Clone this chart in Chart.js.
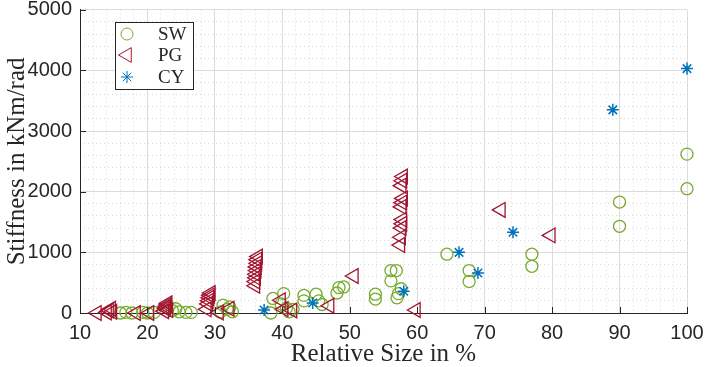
<!DOCTYPE html>
<html lang="en">
<head>
<meta charset="UTF-8">
<title>Stiffness vs relative size</title>
<script src="https://cdn.jsdelivr.net/npm/chart.js"></script>
<style>
  html, body { margin: 0; padding: 0; background: #fff; }
  #chart { display: block; }
</style>
</head>
<body>
<canvas id="chart" width="706" height="367"></canvas>
<script>
// series: relative size (%) and stiffness (kNm/rad)
const swX = [16.0, 16.8, 17.7, 19.3, 20.0, 21.0, 23.7, 24.2, 24.7, 25.7, 26.5,
  30.8, 31.2, 31.8, 32.2, 32.6, 38.3, 38.6, 39.8, 40.2, 40.6, 41.0, 41.6,
  43.2, 43.2, 45.0, 45.4, 45.9, 48.1, 48.4, 49.1, 53.8, 53.8,
  56.1, 56.9, 56.1, 57.6, 57.2, 57.0, 64.4, 67.7, 67.7, 77.0, 77.0, 90.0, 90.0, 100.0, 100.0];
const swY = [0, 10, 0, 10, 0, 10, 40, 70, 20, 10, 10,
  15, 130, 60, 100, 20, 0, 240, 150, 320, 80, 20, 60,
  290, 200, 310, 200, 140, 330, 420, 430, 310, 230,
  700, 700, 530, 400, 320, 250, 970, 700, 520, 970, 770, 1830, 1430, 2620, 2050];

const pgX = [12.5, 14.0, 14.3, 14.6, 14.8, 18.3, 20.3,
  22.5, 22.7, 22.8, 22.9, 23.0, 23.1, 28.8, 29.0, 29.1, 29.2, 29.3, 29.4, 30.6, 32.2,
  36.0, 36.0, 36.1, 36.1, 36.2, 36.2, 36.3, 36.3, 36.4, 39.8, 40.2, 41.5, 47.0, 50.6,
  57.5, 57.6, 57.7, 57.8, 57.8, 57.7, 57.8, 57.9, 57.7, 57.8, 57.9, 59.8, 72.4, 79.8];
const pgY = [0, 10, 40, 70, 20, 0, 0,
  30, 70, 100, 130, 160, 50, 60, 150, 200, 250, 290, 330, 10, 70,
  450, 520, 580, 640, 700, 760, 820, 880, 930, 210, 60, 40, 120, 610,
  1120, 1250, 1400, 1470, 1540, 1750, 1820, 1890, 2100, 2180, 2250, 50, 1700, 1280];

const cyX = [37.3, 44.5, 58.0, 66.2, 69.0, 74.2, 89.0, 100.0];
const cyY = [50, 165, 360, 1000, 660, 1330, 3350, 4030];

const seriesNames = ['SW', 'PG', 'CY'];
const xTicks = [10, 20, 30, 40, 50, 60, 70, 80, 90, 100];
const yTicks = [0, 1000, 2000, 3000, 4000, 5000];

const green = '#77AC30', red = '#A2142F', blue = '#0072BD';
const axisCol = '#262626';

function pts(xs, ys) {
  return xs.map((x, i) => ({ x: x, y: ys[i] }));
}

const markers = [
  { pointStyle: 'circle', radius: 6, rotation: 0, color: green, width: 1.3 },
  { pointStyle: 'triangle', radius: 8.5, rotation: -90, color: red, width: 1.3 },
  { pointStyle: 'star', radius: 6, rotation: 0, color: blue, width: 1.5 }
];

function ds(i, xs, ys, order) {
  const m = markers[i];
  return {
    label: seriesNames[i],
    data: pts(xs, ys),
    pointStyle: m.pointStyle,
    pointRadius: m.radius,
    pointRotation: m.rotation,
    pointBorderColor: m.color,
    pointBackgroundColor: 'rgba(0,0,0,0)',
    pointBorderWidth: m.width,
    borderColor: m.color,
    backgroundColor: 'rgba(0,0,0,0)',
    clip: false,
    order: order
  };
}

// MATLAB style ticks pointing into the plot
const inwardTicks = {
  id: 'inwardTicks',
  afterDatasetsDraw(chart) {
    const { ctx, chartArea, scales } = chart;
    ctx.save();
    ctx.strokeStyle = axisCol;
    ctx.lineWidth = 1;
    ctx.beginPath();
    xTicks.forEach(v => {
      const px = Math.round(scales.x.getPixelForValue(v)) + 0.5;
      ctx.moveTo(px, chartArea.bottom);
      ctx.lineTo(px, chartArea.bottom - 6);
    });
    yTicks.forEach(v => {
      const py = Math.round(scales.y.getPixelForValue(v)) + 0.5;
      ctx.moveTo(chartArea.left, py);
      ctx.lineTo(chartArea.left + 6, py);
    });
    ctx.stroke();
    ctx.restore();
  }
};

// legend box inside the axes, top left
const boxLegend = {
  id: 'boxLegend',
  afterDraw(chart) {
    const ctx = chart.ctx;
    const bx = 115.5, by = 22.5, bw = 78, bh = 67;
    ctx.save();
    ctx.fillStyle = '#ffffff';
    ctx.fillRect(bx, by, bw, bh);
    ctx.strokeStyle = axisCol;
    ctx.lineWidth = 1;
    ctx.strokeRect(bx, by, bw, bh);
    const rows = [34, 55, 77];
    seriesNames.forEach((name, i) => {
      const m = markers[i];
      ctx.strokeStyle = m.color;
      ctx.fillStyle = 'rgba(0,0,0,0)';
      Chart.helpers.drawPoint(ctx, {
        pointStyle: m.pointStyle, radius: m.radius, rotation: m.rotation, borderWidth: m.width
      }, 127, rows[i]);
      ctx.fillStyle = axisCol;
      ctx.font = '19px "Liberation Serif"';
      ctx.textBaseline = 'middle';
      ctx.textAlign = 'left';
      ctx.fillText(name, 158, rows[i] + 1);
    });
    ctx.restore();
  }
};

const tickFont = { family: '"Liberation Sans", Arial, sans-serif', size: 20 };
const titleFont = { family: '"Liberation Serif", serif', size: 25, lineHeight: 1 };

new Chart(document.getElementById('chart'), {
  type: 'scatter',
  data: {
    datasets: [
      ds(0, swX, swY, 3),
      ds(1, pgX, pgY, 2),
      ds(2, cyX, cyY, 1)
    ]
  },
  options: {
    responsive: false,
    animation: false,
    devicePixelRatio: 1,
    layout: { padding: { top: 7, right: 19, left: 0, bottom: 0 } },
    plugins: { legend: { display: false }, tooltip: { enabled: false } },
    scales: {
      xMinor: {
        type: 'linear', position: 'bottom', min: 10, max: 100,
        ticks: { display: false, stepSize: 2, autoSkip: false, maxTicksLimit: 100 },
        grid: { color: '#dadada', drawTicks: false, lineWidth: 1 },
        border: { display: false, dash: [1, 3] },
        afterFit: s => { s.height = 0; s.paddingLeft = 0; s.paddingRight = 0; }
      },
      yMinor: {
        type: 'linear', position: 'left', min: 0, max: 5000,
        ticks: { display: false, stepSize: 200, autoSkip: false, maxTicksLimit: 100 },
        grid: { color: '#dadada', drawTicks: false, lineWidth: 1 },
        border: { display: false, dash: [1, 3] },
        afterFit: s => { s.width = 0; s.paddingTop = 0; s.paddingBottom = 0; }
      },
      x: {
        type: 'linear', position: 'bottom', min: 10, max: 100,
        afterBuildTicks: s => { s.ticks = xTicks.map(v => ({ value: v })); },
        ticks: { font: tickFont, color: axisCol, padding: 8, autoSkip: false, maxRotation: 0,
          callback: v => String(v) },
        grid: { color: '#dcdcdc', drawTicks: false, lineWidth: 1 },
        border: { color: axisCol, width: 1 },
        title: { display: true, text: 'Relative Size in %', font: titleFont, color: axisCol, padding: { top: 0, bottom: 0 } },
        afterFit: s => { s.height = 54; s.paddingLeft = 0; s.paddingRight = 0; }
      },
      y: {
        type: 'linear', position: 'left', min: 0, max: 5000,
        afterBuildTicks: s => { s.ticks = yTicks.map(v => ({ value: v })); },
        ticks: { font: tickFont, color: axisCol, padding: 8, callback: v => String(v) },
        grid: { color: '#dcdcdc', drawTicks: false, lineWidth: 1 },
        border: { color: axisCol, width: 1 },
        title: { display: true, text: 'Stiffness in kNm/rad', font: titleFont, color: axisCol, padding: { top: 5, bottom: 0 } },
        afterFit: s => { s.width = 80; s.paddingTop = 0; s.paddingBottom = 0; }
      }
    }
  },
  plugins: [inwardTicks, boxLegend]
});
</script>
</body>
</html>
